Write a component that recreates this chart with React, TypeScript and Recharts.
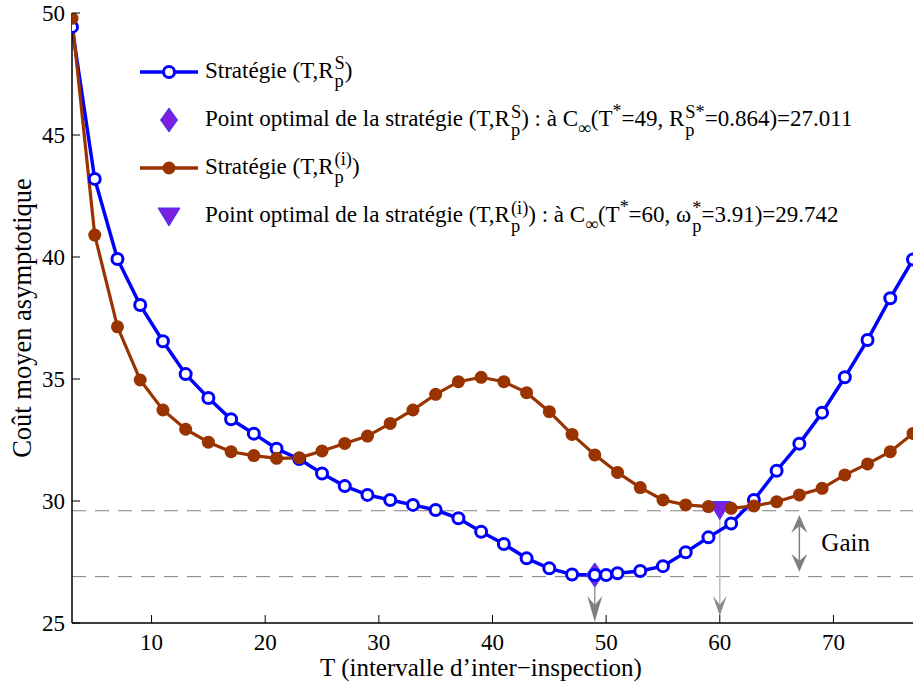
import React from 'react';
import { ComposedChart, Line, Scatter, XAxis, YAxis, ReferenceLine, Legend } from 'recharts';

const FONT = '"Liberation Serif", "Times New Roman", serif';

// Strategy (T, R_p^S) — blue, open circles
const blueT = [3, 5, 7, 9, 11, 13, 15, 17, 19, 21, 23, 25, 27, 29, 31, 33, 35, 37, 39, 41, 43, 45, 47, 49, 50, 51, 53, 55, 57, 59, 61, 63, 65, 67, 69, 71, 73, 75, 77];
const blueCost = [49.43, 43.2, 39.92, 38.03, 36.55, 35.2, 34.22, 33.35, 32.76, 32.14, 31.72, 31.13, 30.61, 30.25, 30.04, 29.84, 29.63, 29.29, 28.74, 28.24, 27.65, 27.24, 26.99, 26.97, 26.97, 27.04, 27.13, 27.33, 27.9, 28.51, 29.08, 30.04, 31.24, 32.35, 33.62, 35.07, 36.6, 38.31, 39.9];

// Strategy (T, R_p^(i)) — brown, filled circles
const brownT = [3, 5, 7, 9, 11, 13, 15, 17, 19, 21, 23, 25, 27, 29, 31, 33, 35, 37, 39, 41, 43, 45, 47, 49, 51, 53, 55, 57, 59, 61, 63, 65, 67, 69, 71, 73, 75, 77];
const brownCost = [49.78, 40.9, 37.14, 34.96, 33.73, 32.94, 32.41, 32.02, 31.86, 31.75, 31.77, 32.05, 32.36, 32.66, 33.18, 33.73, 34.37, 34.89, 35.07, 34.89, 34.44, 33.66, 32.73, 31.89, 31.17, 30.55, 30.04, 29.84, 29.77, 29.7, 29.8, 29.97, 30.25, 30.52, 31.07, 31.52, 32.02, 32.77];

// Optimal points
const optS = [{ t: 49, cost: 26.97 }];
const optI = [{ t: 60, cost: 29.65 }];

// Reference levels (dashed) and gain arrow
const levelI = 29.6;
const levelS = 26.9;
const gainT = 67;
const gainTop = 29.43;
const gainBottom = 27.1;
const axisFloor = 25;

const xTicks = [10, 20, 30, 40, 50, 60, 70];
const yTicks = [25, 30, 35, 40, 45, 50];

const blueData = blueT.map((t, i) => ({ t, cost: blueCost[i] }));
const brownData = brownT.map((t, i) => ({ t, cost: brownCost[i] }));

const BLUE = '#0000ff';
const BROWN = '#993300';
const PURPLE = '#7a1fe0';
const EDGE = '#3a3aff';

const head = (x: number, y: number, dir: number, L: number, w: number, notch: number) =>
  `M${x},${y} L${x - w},${y - dir * L} L${x},${y - dir * (L - notch)} L${x + w},${y - dir * L} Z`;

const DiamondShape = (p: any) => {
  const { cx, cy } = p;
  return <path d={`M${cx},${cy - 12} L${cx + 8.5},${cy} L${cx},${cy + 12} L${cx - 8.5},${cy} Z`} fill={PURPLE} stroke={EDGE} strokeWidth={1} />;
};
const TriShape = (p: any) => {
  const { cx, cy } = p;
  return <path d={`M${cx - 11},${cy - 8} L${cx + 11},${cy - 8} L${cx},${cy + 10} Z`} fill={PURPLE} stroke={EDGE} strokeWidth={1} />;
};

const Sup = ({ c }: any) => <span style={{ fontSize: '0.78em', verticalAlign: '0.5em' }}>{c}</span>;
const Sub = ({ c }: any) => <span style={{ fontSize: '0.78em', verticalAlign: '-0.45em' }}>{c}</span>;
const SupSub = ({ sup, sub }: any) => (
  <span style={{ display: 'inline-flex', flexDirection: 'column', fontSize: '0.8em', lineHeight: 1.0, verticalAlign: 'middle', marginLeft: 1 }}>
    <span>{sup}</span>
    <span>{sub}</span>
  </span>
);

const Row = ({ icon, children }: any) => (
  <div style={{ display: 'flex', alignItems: 'center', height: 48 }}>
    <svg width={58} height={30} style={{ flex: 'none' }}>{icon}</svg>
    <span style={{ marginLeft: 7, whiteSpace: 'nowrap', lineHeight: '24px' }}>{children}</span>
  </div>
);

const renderLegend = () => (
  <div style={{ fontFamily: FONT, fontSize: 23, color: '#000' }}>
    <Row icon={<g><line x1={0} x2={58} y1={15} y2={15} stroke={BLUE} strokeWidth={3.5} /><circle cx={29} cy={15} r={5.5} fill="#fff" stroke={BLUE} strokeWidth={3} /></g>}>
      Stratégie (T,R<SupSub sup="S" sub="p" />)
    </Row>
    <Row icon={<path d="M29,3 L37.5,15 L29,27 L20.5,15 Z" fill={PURPLE} stroke={EDGE} strokeWidth={1} />}>
      Point optimal de la stratégie (T,R<SupSub sup="S" sub="p" />) : à C<Sub c="∞" />(T<Sup c="*" />=49, R<SupSub sup="S*" sub="p" />=0.864)=27.011
    </Row>
    <Row icon={<g><line x1={0} x2={58} y1={15} y2={15} stroke={BROWN} strokeWidth={3.5} /><circle cx={29} cy={15} r={6.5} fill={BROWN} /></g>}>
      Stratégie (T,R<SupSub sup="(i)" sub="p" />)
    </Row>
    <Row icon={<path d="M18,7 L40,7 L29,25 Z" fill={PURPLE} stroke={EDGE} strokeWidth={1} />}>
      Point optimal de la stratégie (T,R<SupSub sup="(i)" sub="p" />) : à C<Sub c="∞" />(T<Sup c="*" />=60, ω<SupSub sup="*" sub="p" />=3.91)=29.742
    </Row>
  </div>
);

const txt = { fontFamily: FONT, fontSize: 23, fill: '#000' };
const lbl = { fontFamily: FONT, fontSize: 25, fill: '#000' };
const ylbl = { fontFamily: FONT, fontSize: 26.5, fill: '#000' };

const BottomTick = (p: any) => (
  <g>
    <line x1={p.x} x2={p.x} y1={p.y} y2={p.y - 8} stroke="#000" strokeWidth={1} />
    <text x={p.x} y={p.y + 27} textAnchor="middle" style={txt}>{p.payload.value}</text>
  </g>
);
const TopTick = (p: any) => <line x1={p.x} x2={p.x} y1={p.y} y2={p.y + 8} stroke="#000" strokeWidth={1} />;
const LeftTick = (p: any) => (
  <g>
    <line x1={p.x} x2={p.x + 8} y1={p.y} y2={p.y} stroke="#000" strokeWidth={1} />
    <text x={p.x - 7} y={p.y} dy="0.36em" textAnchor="end" style={txt}>{p.payload.value}</text>
  </g>
);
const RightTick = (p: any) => <line x1={p.x} x2={p.x - 8} y1={p.y} y2={p.y} stroke="#000" strokeWidth={1} />;

const ArrowDown = (color: string, shaft: string, L: number, w: number) => (p: any) => {
  const { x1, y1, x2, y2 } = p;
  return (
    <g>
      <line x1={x1} x2={x2} y1={y1} y2={y2 - 4} stroke={shaft} strokeWidth={1.5} />
      <path d={head(x2, y2, 1, L, w, 9)} fill={color} />
    </g>
  );
};

const GainArrow = (p: any) => {
  const { x1, y1, x2, y2 } = p;
  const top = Math.min(y1, y2);
  const bot = Math.max(y1, y2);
  return (
    <g>
      <line x1={x1} x2={x2} y1={top + 4} y2={bot - 4} stroke="#808080" strokeWidth={1.5} />
      <path d={head(x1, top, -1, 18, 8, 7)} fill="#808080" />
      <path d={head(x1, bot, 1, 18, 8, 7)} fill="#808080" />
      <text x={x1 + 22} y={(top + bot) / 2 + 8} style={{ fontFamily: FONT, fontSize: 25, fill: '#000' }}>Gain</text>
    </g>
  );
};

export default function App() {
  return (
    <div style={{ position: 'absolute', left: 0, top: 0, width: 913, height: 684, background: '#fff' }}>
      <ComposedChart width={913} height={684} margin={{ top: 13, right: 0, bottom: 0, left: 0 }}>
        <XAxis
          dataKey="t"
          type="number"
          domain={[3, 77]}
          ticks={xTicks}
          allowDataOverflow
          height={61}
          tickLine={false}
          tickSize={0}
          tickMargin={0}
          tick={BottomTick}
          axisLine={{ stroke: '#000', strokeWidth: 1.5 }}
          label={{
            content: () => (
              <text x={481} y={676} textAnchor="middle" style={lbl}>T (intervalle d’inter−inspection)</text>
            ),
          }}
        />
        <XAxis
          xAxisId="top"
          orientation="top"
          dataKey="t"
          type="number"
          domain={[3, 77]}
          ticks={xTicks}
          allowDataOverflow
          height={0}
          tickLine={false}
          tickSize={0}
          tickMargin={0}
          tick={TopTick}
          axisLine={{ stroke: '#000', strokeWidth: 1.5 }}
        />
        <YAxis
          type="number"
          domain={[25, 50]}
          ticks={yTicks}
          allowDataOverflow
          width={72}
          tickLine={false}
          tickSize={0}
          tickMargin={0}
          tick={LeftTick}
          axisLine={{ stroke: '#000', strokeWidth: 1.5 }}
          label={{
            content: () => (
              <text transform="translate(31,318) rotate(-90)" textAnchor="middle" style={ylbl}>Coût moyen asymptotique</text>
            ),
          }}
        />
        <YAxis
          yAxisId="right"
          orientation="right"
          type="number"
          domain={[25, 50]}
          ticks={yTicks}
          allowDataOverflow
          width={0}
          tickLine={false}
          tickSize={0}
          tickMargin={0}
          tick={RightTick}
          axisLine={{ stroke: '#000', strokeWidth: 1.5 }}
        />
        <ReferenceLine y={levelI} stroke="#808080" strokeWidth={1} strokeDasharray="14 9" />
        <ReferenceLine y={levelS} stroke="#808080" strokeWidth={1} strokeDasharray="14 9" />
        <ReferenceLine
          segment={[{ x: optS[0].t, y: optS[0].cost }, { x: optS[0].t, y: axisFloor + 0.04 }]}
          shape={ArrowDown('#808080', '#999999', 26, 7.5)}
        />
        <ReferenceLine
          segment={[{ x: optI[0].t, y: optI[0].cost }, { x: optI[0].t, y: axisFloor + 0.3 }]}
          shape={ArrowDown('#8a8a8a', '#bbbbbb', 20, 7)}
        />
        <ReferenceLine segment={[{ x: gainT, y: gainTop }, { x: gainT, y: gainBottom }]} shape={GainArrow} />
        <Line
          data={blueData}
          dataKey="cost"
          type="linear"
          stroke={BLUE}
          strokeWidth={3.5}
          dot={{ r: 5.5, fill: '#fff', stroke: BLUE, strokeWidth: 3 }}
          activeDot={false}
          isAnimationActive={false}
        />
        <Line
          data={brownData}
          dataKey="cost"
          type="linear"
          stroke={BROWN}
          strokeWidth={3.2}
          dot={{ r: 6.5, fill: BROWN, stroke: BROWN, strokeWidth: 0 }}
          activeDot={false}
          isAnimationActive={false}
        />
        <Scatter data={optS} dataKey="cost" shape={DiamondShape} isAnimationActive={false} />
        <Scatter data={optI} dataKey="cost" shape={TriShape} isAnimationActive={false} />
        <Legend
          layout="vertical"
          align="center"
          verticalAlign="middle"
          wrapperStyle={{ left: 140, top: 48, width: 'auto', height: 'auto' }}
          content={renderLegend}
        />
      </ComposedChart>
    </div>
  );
}
